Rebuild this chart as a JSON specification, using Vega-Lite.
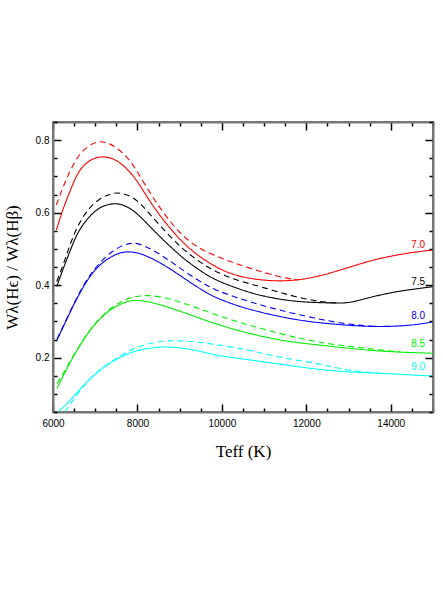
{
  "$schema": "https://vega.github.io/schema/vega-lite/v6.json",
  "autosize": {"type": "none"},
  "padding": {"left": 53, "top": 122, "right": 10, "bottom": 178},
  "width": 380,
  "height": 290,
  "config": {
    "view": {"stroke": "#777777", "strokeWidth": 2},
    "axis": {
      "grid": false,
      "domainColor": "#777777",
      "domainWidth": 2,
      "tickColor": "#000000",
      "tickWidth": 1.5,
      "labelFont": "Liberation Sans",
      "labelFontSize": 10,
      "labelColor": "#000000",
      "titleFont": "Liberation Serif",
      "titleFontSize": 17,
      "titleFontWeight": "normal",
      "titleColor": "#000000"
    }
  },
  "datasets": {
    "curves": [
      {"T": 6080, "W": 0.552, "g": "7.0", "type": "solid"},
      {"T": 6240, "W": 0.612, "g": "7.0", "type": "solid"},
      {"T": 6400, "W": 0.658, "g": "7.0", "type": "solid"},
      {"T": 6550, "W": 0.702, "g": "7.0", "type": "solid"},
      {"T": 6710, "W": 0.730, "g": "7.0", "type": "solid"},
      {"T": 6950, "W": 0.751, "g": "7.0", "type": "solid"},
      {"T": 7230, "W": 0.756, "g": "7.0", "type": "solid"},
      {"T": 7500, "W": 0.746, "g": "7.0", "type": "solid"},
      {"T": 7740, "W": 0.723, "g": "7.0", "type": "solid"},
      {"T": 8000, "W": 0.688, "g": "7.0", "type": "solid"},
      {"T": 8330, "W": 0.623, "g": "7.0", "type": "solid"},
      {"T": 8730, "W": 0.562, "g": "7.0", "type": "solid"},
      {"T": 9120, "W": 0.511, "g": "7.0", "type": "solid"},
      {"T": 9520, "W": 0.474, "g": "7.0", "type": "solid"},
      {"T": 9850, "W": 0.451, "g": "7.0", "type": "solid"},
      {"T": 10070, "W": 0.438, "g": "7.0", "type": "solid"},
      {"T": 10310, "W": 0.428, "g": "7.0", "type": "solid"},
      {"T": 10620, "W": 0.419, "g": "7.0", "type": "solid"},
      {"T": 11020, "W": 0.413, "g": "7.0", "type": "solid"},
      {"T": 11410, "W": 0.411, "g": "7.0", "type": "solid"},
      {"T": 11810, "W": 0.414, "g": "7.0", "type": "solid"},
      {"T": 12250, "W": 0.423, "g": "7.0", "type": "solid"},
      {"T": 12800, "W": 0.441, "g": "7.0", "type": "solid"},
      {"T": 13270, "W": 0.459, "g": "7.0", "type": "solid"},
      {"T": 13745, "W": 0.474, "g": "7.0", "type": "solid"},
      {"T": 14220, "W": 0.485, "g": "7.0", "type": "solid"},
      {"T": 14690, "W": 0.493, "g": "7.0", "type": "solid"},
      {"T": 15000, "W": 0.497, "g": "7.0", "type": "solid"},

      {"T": 6080, "W": 0.621, "g": "7.0", "type": "dashed"},
      {"T": 6240, "W": 0.672, "g": "7.0", "type": "dashed"},
      {"T": 6400, "W": 0.714, "g": "7.0", "type": "dashed"},
      {"T": 6550, "W": 0.748, "g": "7.0", "type": "dashed"},
      {"T": 6710, "W": 0.773, "g": "7.0", "type": "dashed"},
      {"T": 6950, "W": 0.792, "g": "7.0", "type": "dashed"},
      {"T": 7110, "W": 0.797, "g": "7.0", "type": "dashed"},
      {"T": 7340, "W": 0.792, "g": "7.0", "type": "dashed"},
      {"T": 7580, "W": 0.773, "g": "7.0", "type": "dashed"},
      {"T": 7820, "W": 0.745, "g": "7.0", "type": "dashed"},
      {"T": 8000, "W": 0.712, "g": "7.0", "type": "dashed"},
      {"T": 8330, "W": 0.648, "g": "7.0", "type": "dashed"},
      {"T": 8730, "W": 0.580, "g": "7.0", "type": "dashed"},
      {"T": 9120, "W": 0.529, "g": "7.0", "type": "dashed"},
      {"T": 9520, "W": 0.497, "g": "7.0", "type": "dashed"},
      {"T": 9950, "W": 0.476, "g": "7.0", "type": "dashed"},
      {"T": 10310, "W": 0.460, "g": "7.0", "type": "dashed"},
      {"T": 10780, "W": 0.442, "g": "7.0", "type": "dashed"},
      {"T": 11260, "W": 0.426, "g": "7.0", "type": "dashed"},
      {"T": 11570, "W": 0.418, "g": "7.0", "type": "dashed"},
      {"T": 11810, "W": 0.414, "g": "7.0", "type": "dashed"},

      {"T": 6090, "W": 0.396, "g": "7.5", "type": "solid"},
      {"T": 6200, "W": 0.433, "g": "7.5", "type": "solid"},
      {"T": 6400, "W": 0.493, "g": "7.5", "type": "solid"},
      {"T": 6550, "W": 0.537, "g": "7.5", "type": "solid"},
      {"T": 6710, "W": 0.568, "g": "7.5", "type": "solid"},
      {"T": 6950, "W": 0.601, "g": "7.5", "type": "solid"},
      {"T": 7185, "W": 0.620, "g": "7.5", "type": "solid"},
      {"T": 7500, "W": 0.627, "g": "7.5", "type": "solid"},
      {"T": 7740, "W": 0.618, "g": "7.5", "type": "solid"},
      {"T": 7980, "W": 0.600, "g": "7.5", "type": "solid"},
      {"T": 8330, "W": 0.557, "g": "7.5", "type": "solid"},
      {"T": 8730, "W": 0.511, "g": "7.5", "type": "solid"},
      {"T": 9120, "W": 0.470, "g": "7.5", "type": "solid"},
      {"T": 9520, "W": 0.437, "g": "7.5", "type": "solid"},
      {"T": 9830, "W": 0.415, "g": "7.5", "type": "solid"},
      {"T": 10310, "W": 0.393, "g": "7.5", "type": "solid"},
      {"T": 10780, "W": 0.375, "g": "7.5", "type": "solid"},
      {"T": 11260, "W": 0.363, "g": "7.5", "type": "solid"},
      {"T": 11730, "W": 0.355, "g": "7.5", "type": "solid"},
      {"T": 12200, "W": 0.352, "g": "7.5", "type": "solid"},
      {"T": 12800, "W": 0.350, "g": "7.5", "type": "solid"},
      {"T": 13040, "W": 0.352, "g": "7.5", "type": "solid"},
      {"T": 13270, "W": 0.359, "g": "7.5", "type": "solid"},
      {"T": 13745, "W": 0.373, "g": "7.5", "type": "solid"},
      {"T": 14220, "W": 0.384, "g": "7.5", "type": "solid"},
      {"T": 14690, "W": 0.391, "g": "7.5", "type": "solid"},
      {"T": 15000, "W": 0.396, "g": "7.5", "type": "solid"},

      {"T": 6090, "W": 0.410, "g": "7.5", "type": "dashed"},
      {"T": 6240, "W": 0.455, "g": "7.5", "type": "dashed"},
      {"T": 6400, "W": 0.511, "g": "7.5", "type": "dashed"},
      {"T": 6550, "W": 0.555, "g": "7.5", "type": "dashed"},
      {"T": 6710, "W": 0.589, "g": "7.5", "type": "dashed"},
      {"T": 6870, "W": 0.614, "g": "7.5", "type": "dashed"},
      {"T": 7110, "W": 0.640, "g": "7.5", "type": "dashed"},
      {"T": 7420, "W": 0.655, "g": "7.5", "type": "dashed"},
      {"T": 7660, "W": 0.654, "g": "7.5", "type": "dashed"},
      {"T": 7900, "W": 0.642, "g": "7.5", "type": "dashed"},
      {"T": 8100, "W": 0.622, "g": "7.5", "type": "dashed"},
      {"T": 8330, "W": 0.591, "g": "7.5", "type": "dashed"},
      {"T": 8730, "W": 0.539, "g": "7.5", "type": "dashed"},
      {"T": 9120, "W": 0.494, "g": "7.5", "type": "dashed"},
      {"T": 9520, "W": 0.460, "g": "7.5", "type": "dashed"},
      {"T": 9830, "W": 0.438, "g": "7.5", "type": "dashed"},
      {"T": 10310, "W": 0.415, "g": "7.5", "type": "dashed"},
      {"T": 10780, "W": 0.400, "g": "7.5", "type": "dashed"},
      {"T": 11260, "W": 0.384, "g": "7.5", "type": "dashed"},
      {"T": 11730, "W": 0.368, "g": "7.5", "type": "dashed"},
      {"T": 12200, "W": 0.357, "g": "7.5", "type": "dashed"},
      {"T": 12440, "W": 0.353, "g": "7.5", "type": "dashed"},
      {"T": 12800, "W": 0.350, "g": "7.5", "type": "dashed"},

      {"T": 6095, "W": 0.249, "g": "8.0", "type": "solid"},
      {"T": 6320, "W": 0.304, "g": "8.0", "type": "solid"},
      {"T": 6555, "W": 0.362, "g": "8.0", "type": "solid"},
      {"T": 6790, "W": 0.410, "g": "8.0", "type": "solid"},
      {"T": 6950, "W": 0.436, "g": "8.0", "type": "solid"},
      {"T": 7185, "W": 0.465, "g": "8.0", "type": "solid"},
      {"T": 7500, "W": 0.487, "g": "8.0", "type": "solid"},
      {"T": 7740, "W": 0.493, "g": "8.0", "type": "solid"},
      {"T": 8015, "W": 0.490, "g": "8.0", "type": "solid"},
      {"T": 8330, "W": 0.475, "g": "8.0", "type": "solid"},
      {"T": 8727, "W": 0.449, "g": "8.0", "type": "solid"},
      {"T": 9100, "W": 0.419, "g": "8.0", "type": "solid"},
      {"T": 9518, "W": 0.387, "g": "8.0", "type": "solid"},
      {"T": 9834, "W": 0.366, "g": "8.0", "type": "solid"},
      {"T": 10310, "W": 0.345, "g": "8.0", "type": "solid"},
      {"T": 10780, "W": 0.329, "g": "8.0", "type": "solid"},
      {"T": 11260, "W": 0.316, "g": "8.0", "type": "solid"},
      {"T": 11730, "W": 0.305, "g": "8.0", "type": "solid"},
      {"T": 12300, "W": 0.296, "g": "8.0", "type": "solid"},
      {"T": 12800, "W": 0.291, "g": "8.0", "type": "solid"},
      {"T": 13270, "W": 0.287, "g": "8.0", "type": "solid"},
      {"T": 13590, "W": 0.286, "g": "8.0", "type": "solid"},
      {"T": 13900, "W": 0.286, "g": "8.0", "type": "solid"},
      {"T": 14220, "W": 0.287, "g": "8.0", "type": "solid"},
      {"T": 14690, "W": 0.292, "g": "8.0", "type": "solid"},
      {"T": 15000, "W": 0.299, "g": "8.0", "type": "solid"},

      {"T": 6095, "W": 0.251, "g": "8.0", "type": "dashed"},
      {"T": 6320, "W": 0.306, "g": "8.0", "type": "dashed"},
      {"T": 6555, "W": 0.364, "g": "8.0", "type": "dashed"},
      {"T": 6790, "W": 0.414, "g": "8.0", "type": "dashed"},
      {"T": 7000, "W": 0.448, "g": "8.0", "type": "dashed"},
      {"T": 7300, "W": 0.485, "g": "8.0", "type": "dashed"},
      {"T": 7580, "W": 0.507, "g": "8.0", "type": "dashed"},
      {"T": 7818, "W": 0.516, "g": "8.0", "type": "dashed"},
      {"T": 8015, "W": 0.516, "g": "8.0", "type": "dashed"},
      {"T": 8333, "W": 0.499, "g": "8.0", "type": "dashed"},
      {"T": 8727, "W": 0.471, "g": "8.0", "type": "dashed"},
      {"T": 9122, "W": 0.437, "g": "8.0", "type": "dashed"},
      {"T": 9597, "W": 0.402, "g": "8.0", "type": "dashed"},
      {"T": 9834, "W": 0.387, "g": "8.0", "type": "dashed"},
      {"T": 10310, "W": 0.367, "g": "8.0", "type": "dashed"},
      {"T": 10780, "W": 0.350, "g": "8.0", "type": "dashed"},
      {"T": 11260, "W": 0.334, "g": "8.0", "type": "dashed"},
      {"T": 11730, "W": 0.321, "g": "8.0", "type": "dashed"},
      {"T": 12200, "W": 0.309, "g": "8.0", "type": "dashed"},
      {"T": 12440, "W": 0.303, "g": "8.0", "type": "dashed"},
      {"T": 12800, "W": 0.296, "g": "8.0", "type": "dashed"},
      {"T": 13100, "W": 0.291, "g": "8.0", "type": "dashed"},
      {"T": 13590, "W": 0.286, "g": "8.0", "type": "dashed"},

      {"T": 6095, "W": 0.115, "g": "8.5", "type": "solid"},
      {"T": 6237, "W": 0.149, "g": "8.5", "type": "solid"},
      {"T": 6474, "W": 0.202, "g": "8.5", "type": "solid"},
      {"T": 6711, "W": 0.248, "g": "8.5", "type": "solid"},
      {"T": 6948, "W": 0.287, "g": "8.5", "type": "solid"},
      {"T": 7185, "W": 0.316, "g": "8.5", "type": "solid"},
      {"T": 7423, "W": 0.338, "g": "8.5", "type": "solid"},
      {"T": 7740, "W": 0.355, "g": "8.5", "type": "solid"},
      {"T": 7937, "W": 0.359, "g": "8.5", "type": "solid"},
      {"T": 8253, "W": 0.355, "g": "8.5", "type": "solid"},
      {"T": 8569, "W": 0.345, "g": "8.5", "type": "solid"},
      {"T": 8885, "W": 0.333, "g": "8.5", "type": "solid"},
      {"T": 9201, "W": 0.320, "g": "8.5", "type": "solid"},
      {"T": 9518, "W": 0.307, "g": "8.5", "type": "solid"},
      {"T": 9834, "W": 0.294, "g": "8.5", "type": "solid"},
      {"T": 10308, "W": 0.277, "g": "8.5", "type": "solid"},
      {"T": 10782, "W": 0.263, "g": "8.5", "type": "solid"},
      {"T": 11256, "W": 0.251, "g": "8.5", "type": "solid"},
      {"T": 11730, "W": 0.242, "g": "8.5", "type": "solid"},
      {"T": 12204, "W": 0.236, "g": "8.5", "type": "solid"},
      {"T": 12441, "W": 0.233, "g": "8.5", "type": "solid"},
      {"T": 12800, "W": 0.228, "g": "8.5", "type": "solid"},
      {"T": 13270, "W": 0.223, "g": "8.5", "type": "solid"},
      {"T": 13745, "W": 0.218, "g": "8.5", "type": "solid"},
      {"T": 14220, "W": 0.215, "g": "8.5", "type": "solid"},
      {"T": 15000, "W": 0.212, "g": "8.5", "type": "solid"},

      {"T": 6095, "W": 0.129, "g": "8.5", "type": "dashed"},
      {"T": 6237, "W": 0.154, "g": "8.5", "type": "dashed"},
      {"T": 6474, "W": 0.204, "g": "8.5", "type": "dashed"},
      {"T": 6711, "W": 0.249, "g": "8.5", "type": "dashed"},
      {"T": 6948, "W": 0.288, "g": "8.5", "type": "dashed"},
      {"T": 7185, "W": 0.318, "g": "8.5", "type": "dashed"},
      {"T": 7423, "W": 0.341, "g": "8.5", "type": "dashed"},
      {"T": 7620, "W": 0.355, "g": "8.5", "type": "dashed"},
      {"T": 7818, "W": 0.365, "g": "8.5", "type": "dashed"},
      {"T": 8015, "W": 0.370, "g": "8.5", "type": "dashed"},
      {"T": 8253, "W": 0.372, "g": "8.5", "type": "dashed"},
      {"T": 8569, "W": 0.368, "g": "8.5", "type": "dashed"},
      {"T": 8885, "W": 0.358, "g": "8.5", "type": "dashed"},
      {"T": 9201, "W": 0.346, "g": "8.5", "type": "dashed"},
      {"T": 9518, "W": 0.333, "g": "8.5", "type": "dashed"},
      {"T": 9834, "W": 0.319, "g": "8.5", "type": "dashed"},
      {"T": 10308, "W": 0.301, "g": "8.5", "type": "dashed"},
      {"T": 10782, "W": 0.285, "g": "8.5", "type": "dashed"},
      {"T": 11256, "W": 0.270, "g": "8.5", "type": "dashed"},
      {"T": 11730, "W": 0.256, "g": "8.5", "type": "dashed"},
      {"T": 12204, "W": 0.245, "g": "8.5", "type": "dashed"},
      {"T": 12441, "W": 0.240, "g": "8.5", "type": "dashed"},
      {"T": 12800, "W": 0.234, "g": "8.5", "type": "dashed"},
      {"T": 13270, "W": 0.228, "g": "8.5", "type": "dashed"},
      {"T": 13745, "W": 0.221, "g": "8.5", "type": "dashed"},
      {"T": 14220, "W": 0.216, "g": "8.5", "type": "dashed"},

      {"T": 6120, "W": 0.050, "g": "9.0", "type": "solid"},
      {"T": 6396, "W": 0.080, "g": "9.0", "type": "solid"},
      {"T": 6711, "W": 0.123, "g": "9.0", "type": "solid"},
      {"T": 7029, "W": 0.159, "g": "9.0", "type": "solid"},
      {"T": 7344, "W": 0.185, "g": "9.0", "type": "solid"},
      {"T": 7660, "W": 0.205, "g": "9.0", "type": "solid"},
      {"T": 7937, "W": 0.219, "g": "9.0", "type": "solid"},
      {"T": 8411, "W": 0.229, "g": "9.0", "type": "solid"},
      {"T": 8727, "W": 0.230, "g": "9.0", "type": "solid"},
      {"T": 9122, "W": 0.226, "g": "9.0", "type": "solid"},
      {"T": 9518, "W": 0.217, "g": "9.0", "type": "solid"},
      {"T": 9834, "W": 0.207, "g": "9.0", "type": "solid"},
      {"T": 10308, "W": 0.199, "g": "9.0", "type": "solid"},
      {"T": 10782, "W": 0.192, "g": "9.0", "type": "solid"},
      {"T": 11256, "W": 0.184, "g": "9.0", "type": "solid"},
      {"T": 11730, "W": 0.176, "g": "9.0", "type": "solid"},
      {"T": 12204, "W": 0.169, "g": "9.0", "type": "solid"},
      {"T": 12441, "W": 0.166, "g": "9.0", "type": "solid"},
      {"T": 12800, "W": 0.162, "g": "9.0", "type": "solid"},
      {"T": 13270, "W": 0.159, "g": "9.0", "type": "solid"},
      {"T": 13745, "W": 0.157, "g": "9.0", "type": "solid"},
      {"T": 14220, "W": 0.154, "g": "9.0", "type": "solid"},
      {"T": 15000, "W": 0.149, "g": "9.0", "type": "solid"},

      {"T": 6277, "W": 0.050, "g": "9.0", "type": "dashed"},
      {"T": 6555, "W": 0.095, "g": "9.0", "type": "dashed"},
      {"T": 6711, "W": 0.121, "g": "9.0", "type": "dashed"},
      {"T": 7029, "W": 0.160, "g": "9.0", "type": "dashed"},
      {"T": 7344, "W": 0.187, "g": "9.0", "type": "dashed"},
      {"T": 7660, "W": 0.209, "g": "9.0", "type": "dashed"},
      {"T": 7818, "W": 0.220, "g": "9.0", "type": "dashed"},
      {"T": 8015, "W": 0.230, "g": "9.0", "type": "dashed"},
      {"T": 8411, "W": 0.243, "g": "9.0", "type": "dashed"},
      {"T": 8727, "W": 0.247, "g": "9.0", "type": "dashed"},
      {"T": 9122, "W": 0.246, "g": "9.0", "type": "dashed"},
      {"T": 9518, "W": 0.242, "g": "9.0", "type": "dashed"},
      {"T": 9834, "W": 0.236, "g": "9.0", "type": "dashed"},
      {"T": 10308, "W": 0.228, "g": "9.0", "type": "dashed"},
      {"T": 10782, "W": 0.217, "g": "9.0", "type": "dashed"},
      {"T": 11256, "W": 0.204, "g": "9.0", "type": "dashed"},
      {"T": 11730, "W": 0.194, "g": "9.0", "type": "dashed"},
      {"T": 12204, "W": 0.185, "g": "9.0", "type": "dashed"},
      {"T": 12441, "W": 0.179, "g": "9.0", "type": "dashed"},
      {"T": 12800, "W": 0.169, "g": "9.0", "type": "dashed"},
      {"T": 13270, "W": 0.161, "g": "9.0", "type": "dashed"},
      {"T": 13745, "W": 0.157, "g": "9.0", "type": "dashed"}
    ],
    "labels": [
      {"T": 14812, "W": 0.511, "g": "7.0"},
      {"T": 14812, "W": 0.410, "g": "7.5"},
      {"T": 14812, "W": 0.315, "g": "8.0"},
      {"T": 14812, "W": 0.237, "g": "8.5"},
      {"T": 14812, "W": 0.175, "g": "9.0"}
    ]
  },
  "layer": [
    {
      "data": {"name": "curves"},
      "mark": {"type": "line", "strokeWidth": 1.1, "interpolate": "basis"},
      "encoding": {
        "x": {
          "field": "T", "type": "quantitative",
          "scale": {"domain": [6000, 15000], "nice": false},
          "axis": {
            "orient": "bottom",
            "values": [6000, 6500, 7000, 7500, 8000, 8500, 9000, 9500, 10000, 10500, 11000, 11500, 12000, 12500, 13000, 13500, 14000, 14500, 15000],
            "labelExpr": "datum.value % 2000 === 0 && datum.value < 15000 ? format(datum.value, 'd') : ''",
            "tickSize": {"condition": {"test": "datum.value % 2000 === 0", "value": -8}, "value": -4},
            "labelPadding": 14,
            "labelFlush": false,
            "zindex": 2,
            "title": "Teff  (K)",
            "titlePadding": 15
          }
        },
        "y": {
          "field": "W", "type": "quantitative",
          "scale": {"domain": [0.05, 0.85], "nice": false},
          "axis": {
            "orient": "left",
            "values": [0.05, 0.1, 0.15, 0.2, 0.25, 0.3, 0.35, 0.4, 0.45, 0.5, 0.55, 0.6, 0.65, 0.7, 0.75, 0.8, 0.85],
            "labelExpr": "round(datum.value * 100) % 20 === 0 ? format(datum.value, '.1f') : ''",
            "tickSize": {"condition": {"test": "round(datum.value * 100) % 20 === 0", "value": -8}, "value": -4},
            "labelPadding": 12,
            "labelFlush": false,
            "zindex": 2,
            "title": "Wλ(Hϵ) / Wλ(Hβ)",
            "titlePadding": 14
          }
        },
        "color": {
          "field": "g", "type": "nominal",
          "scale": {"domain": ["7.0", "7.5", "8.0", "8.5", "9.0"], "range": ["#ff0000", "#000000", "#0000ff", "#00ee00", "#00ffff"]},
          "legend": null
        },
        "strokeDash": {
          "field": "type", "type": "nominal",
          "scale": {"domain": ["solid", "dashed"], "range": [[1, 0], [6, 4]]},
          "legend": null
        }
      }
    },
    {
      "data": {"name": "labels"},
      "mark": {"type": "text", "align": "right", "baseline": "middle", "font": "Liberation Sans", "fontSize": 10},
      "encoding": {
        "x": {
          "field": "T", "type": "quantitative",
          "scale": {"domain": [6000, 15000], "nice": false},
          "axis": {
            "orient": "top",
            "values": [6000, 6500, 7000, 7500, 8000, 8500, 9000, 9500, 10000, 10500, 11000, 11500, 12000, 12500, 13000, 13500, 14000, 14500, 15000],
            "labels": false,
            "zindex": 2,
            "tickSize": {"condition": {"test": "datum.value % 2000 === 0", "value": -8}, "value": -4},
            "title": null
          }
        },
        "y": {
          "field": "W", "type": "quantitative",
          "scale": {"domain": [0.05, 0.85], "nice": false},
          "axis": {
            "orient": "right",
            "values": [0.05, 0.1, 0.15, 0.2, 0.25, 0.3, 0.35, 0.4, 0.45, 0.5, 0.55, 0.6, 0.65, 0.7, 0.75, 0.8, 0.85],
            "labels": false,
            "zindex": 2,
            "tickSize": {"condition": {"test": "round(datum.value * 100) % 20 === 0", "value": -8}, "value": -4},
            "title": null
          }
        },
        "text": {"field": "g"},
        "color": {"field": "g", "type": "nominal", "legend": null}
      }
    }
  ],
  "resolve": {"scale": {"x": "shared", "y": "shared", "color": "shared"}, "axis": {"x": "independent", "y": "independent"}}
}
